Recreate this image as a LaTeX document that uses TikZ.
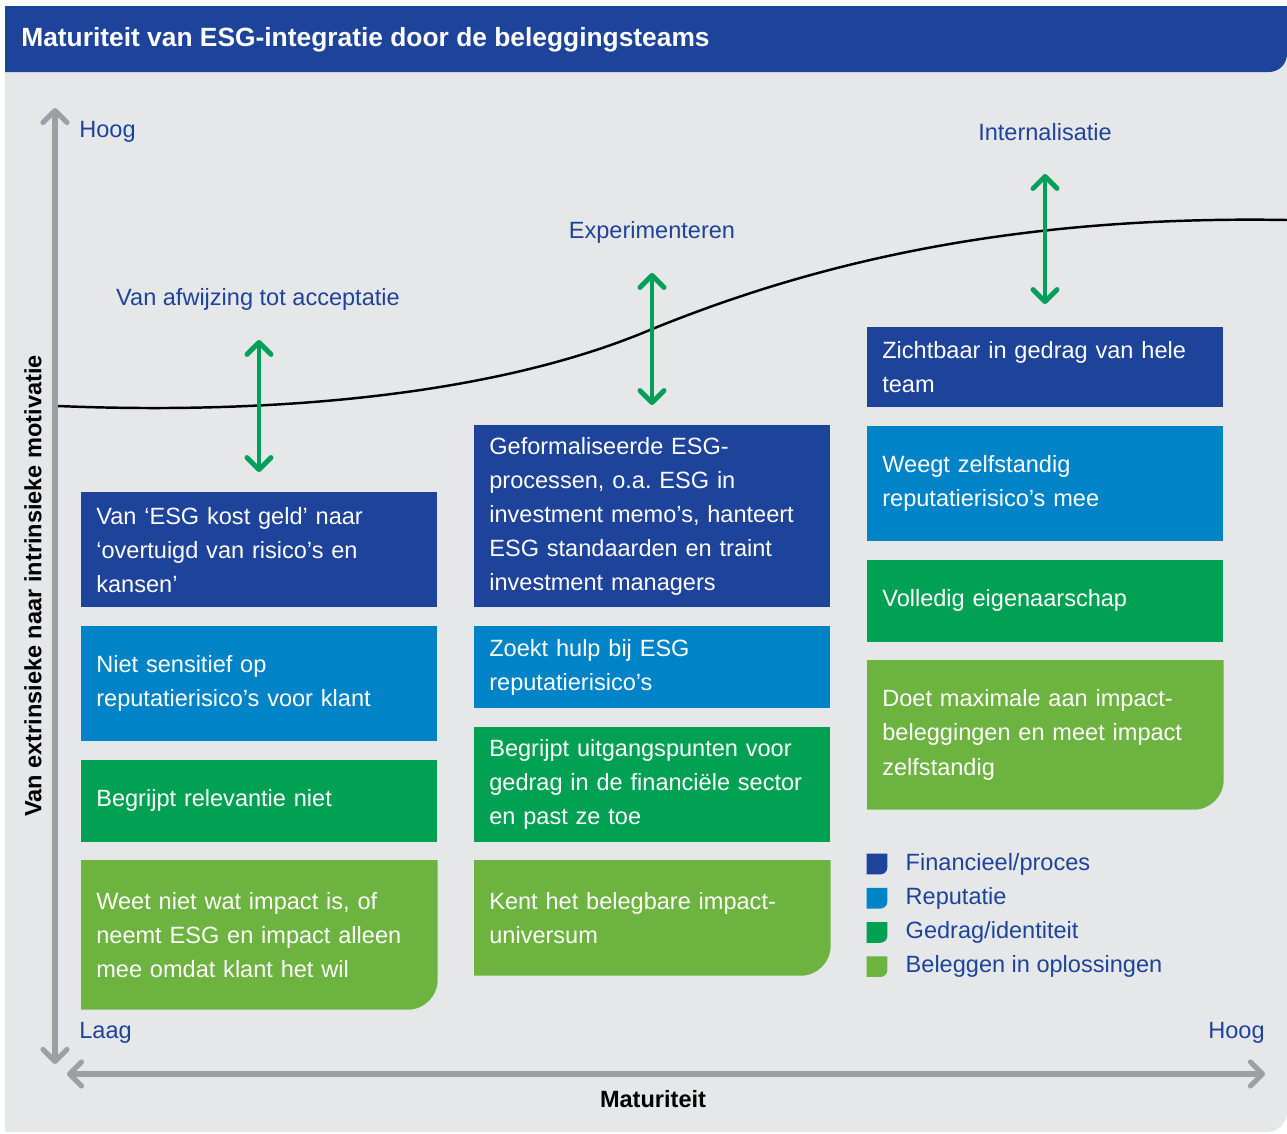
\documentclass[tikz,border=0pt]{standalone}
\usepackage{fontspec}
\setmainfont{Liberation Sans}
\usetikzlibrary{arrows.meta,positioning,backgrounds}

\definecolor{esgdark}{RGB}{29,67,155}
\definecolor{esgblue}{RGB}{0,132,199}
\definecolor{esggreen}{RGB}{0,161,82}
\definecolor{esglight}{RGB}{109,179,63}
\definecolor{esgarrow}{RGB}{0,160,90}
\definecolor{panelgray}{RGB}{230,231,232}
\definecolor{axisgray}{RGB}{157,159,162}

\newcommand{\cornerfill}[3]{%
  \fill[#2] (#1.north west) rectangle ([xshift=-#3]#1.south east)
            (#1.north west) rectangle ([yshift=#3]#1.south east)
            [rounded corners=#3] (#1.north west) rectangle (#1.south east);}

\frenchspacing
\begin{document}
\begin{tikzpicture}[
  x=0.02cm, y=-0.02cm,
  font=\fontsize{13.4}{19.4}\selectfont,
  box/.style={text=white, align=left, text width=6.52cm, inner xsep=0.3cm, inner ysep=0pt, minimum width=7.12cm, minimum height=#1},
  box/.default=2.3cm,
  label/.style={text=esgdark, inner sep=0pt},
  bold/.style={font=\fontsize{13.4}{16}\selectfont\bfseries, inner sep=0pt},
  axis/.style={draw=axisgray, line width=2.9pt, >={Straight Barb[round, length=2.4mm, width=4.8mm]}, <->},
  swing/.style={draw=esgarrow, line width=2.8pt, >={Straight Barb[round, length=2.4mm, width=4.8mm]}, <->},
  legsq/.style={minimum size=0.4cm, inner sep=0pt},
  legtext/.style={text=esgdark, inner sep=0pt}
]
  \useasboundingbox (0,0) rectangle (1287,1133);
  \begin{scope}[on background layer]
    \fill[panelgray] (5,40) rectangle (1267,1132) (5,40) rectangle (1287,1112)
      [rounded corners=0.4cm] (5,40) rectangle (1287,1132);
    \fill[esgdark] (5,6) rectangle (1269,72) (5,6) rectangle (1287,54)
      [rounded corners=0.36cm] (5,6) rectangle (1287,72);
  \end{scope}
  \node[anchor=west, text=white, inner sep=0pt, font=\fontsize{15}{18}\selectfont\bfseries] (title) at (21,40) {Maturiteit van ESG-integratie door de beleggingsteams};

  % assen
  \coordinate (ytop) at (55,108);
  \coordinate (ybot) at (55,1064);
  \coordinate (xleft) at (67,1074);
  \coordinate (xright) at (1265,1074);
  \draw[axis] (ytop) -- (ybot);
  \draw[axis] (xleft) -- (xright);
  \node[label, anchor=west] (hoogy) at (79,132) {Hoog};
  \node[label, anchor=west] (laag) at (79,1033) {Laag};
  \node[label, anchor=east] (hoogx) at (1265,1033) {Hoog};
  \node[bold] (xlabel) at (653,1099) {Maturiteit};
  \node[bold, rotate=90] (ylabel) at (33,586) {Van extrinsieke naar intrinsieke motivatie};

  \draw[line width=1.4pt] (58,406) .. controls (250,414) and (480,400) .. (645,332)
    .. controls (800,268) and (1000,215) .. (1287,220);

  \node[label] (stage1) at (258,299) {Van afwijzing tot acceptatie};
  \node[label] (stage2) at (652,232) {Experimenteren};
  \node[label] (stage3) at (1045,132) {Internalisatie};
  \coordinate (sw1t) at (259,340);
  \coordinate (sw1b) at (259,472);
  \coordinate (sw2t) at (652,273);
  \coordinate (sw2b) at (652,405);
  \coordinate (sw3t) at (1045,174);
  \coordinate (sw3b) at (1045,304);
  \draw[swing] (sw1t) -- (sw1b);
  \draw[swing] (sw2t) -- (sw2b);
  \draw[swing] (sw3t) -- (sw3b);

  \node[box, fill=esgdark, anchor=north west] (fin1) at (81,492) {Van ‘ESG kost geld’ naar\\‘overtuigd van risico’s en\\kansen’};
  \node[box, fill=esgblue, below=0.36cm of fin1] (rep1) {Niet sensitief op\\reputatierisico’s voor klant};
  \node[box=1.64cm, fill=esggreen, below=0.36cm of rep1] (ged1) {Begrijpt relevantie niet};
  \node[box=2.98cm, below=0.36cm of ged1] (bel1) {Weet niet wat impact is, of\\neemt ESG en impact alleen\\mee omdat klant het wil};

  \node[box=3.64cm, fill=esgdark, anchor=north west] (fin2) at (474,425) {Geformaliseerde ESG-\\processen, o.a. ESG in\\investment memo’s, hanteert\\ESG standaarden en traint\\investment managers};
  \node[box=1.64cm, fill=esgblue, below=0.36cm of fin2] (rep2) {Zoekt hulp bij ESG\\reputatierisico’s};
  \node[box, fill=esggreen, below=0.36cm of rep2] (ged2) {Begrijpt uitgangspunten voor\\gedrag in de financiële sector\\en past ze toe};
  \node[box, below=0.36cm of ged2] (bel2) {Kent het belegbare impact-\\universum};

  \node[box=1.6cm, fill=esgdark, anchor=north west] (fin3) at (867,327) {Zichtbaar in gedrag van hele\\team};
  \node[box, fill=esgblue, below=0.36cm of fin3] (rep3) {Weegt zelfstandig\\reputatierisico’s mee};
  \node[box=1.64cm, fill=esggreen, below=0.36cm of rep3] (ged3) {Volledig eigenaarschap};
  \node[box=2.98cm, below=0.36cm of ged3] (bel3) {Doet maximale aan impact-\\beleggingen en meet impact\\zelfstandig};

  % legenda
  \node[legsq] (sq1) at (877,864) {};
  \node[legsq, below=0.27cm of sq1] (sq2) {};
  \node[legsq, below=0.27cm of sq2] (sq3) {};
  \node[legsq, below=0.27cm of sq3] (sq4) {};
  \node[legtext, right=0.36cm of sq1] (leg1) {Financieel/proces};
  \node[legtext, right=0.36cm of sq2] (leg2) {Reputatie};
  \node[legtext, right=0.36cm of sq3] (leg3) {Gedrag/identiteit};
  \node[legtext, right=0.36cm of sq4] (leg4) {Beleggen in oplossingen};

  \begin{scope}[on background layer]
    \cornerfill{bel1}{esglight}{0.6cm}
    \cornerfill{bel2}{esglight}{0.6cm}
    \cornerfill{bel3}{esglight}{0.6cm}
    \cornerfill{sq1}{esgdark}{0.14cm}
    \cornerfill{sq2}{esgblue}{0.14cm}
    \cornerfill{sq3}{esggreen}{0.14cm}
    \cornerfill{sq4}{esglight}{0.14cm}
  \end{scope}
\end{tikzpicture}
\end{document}
